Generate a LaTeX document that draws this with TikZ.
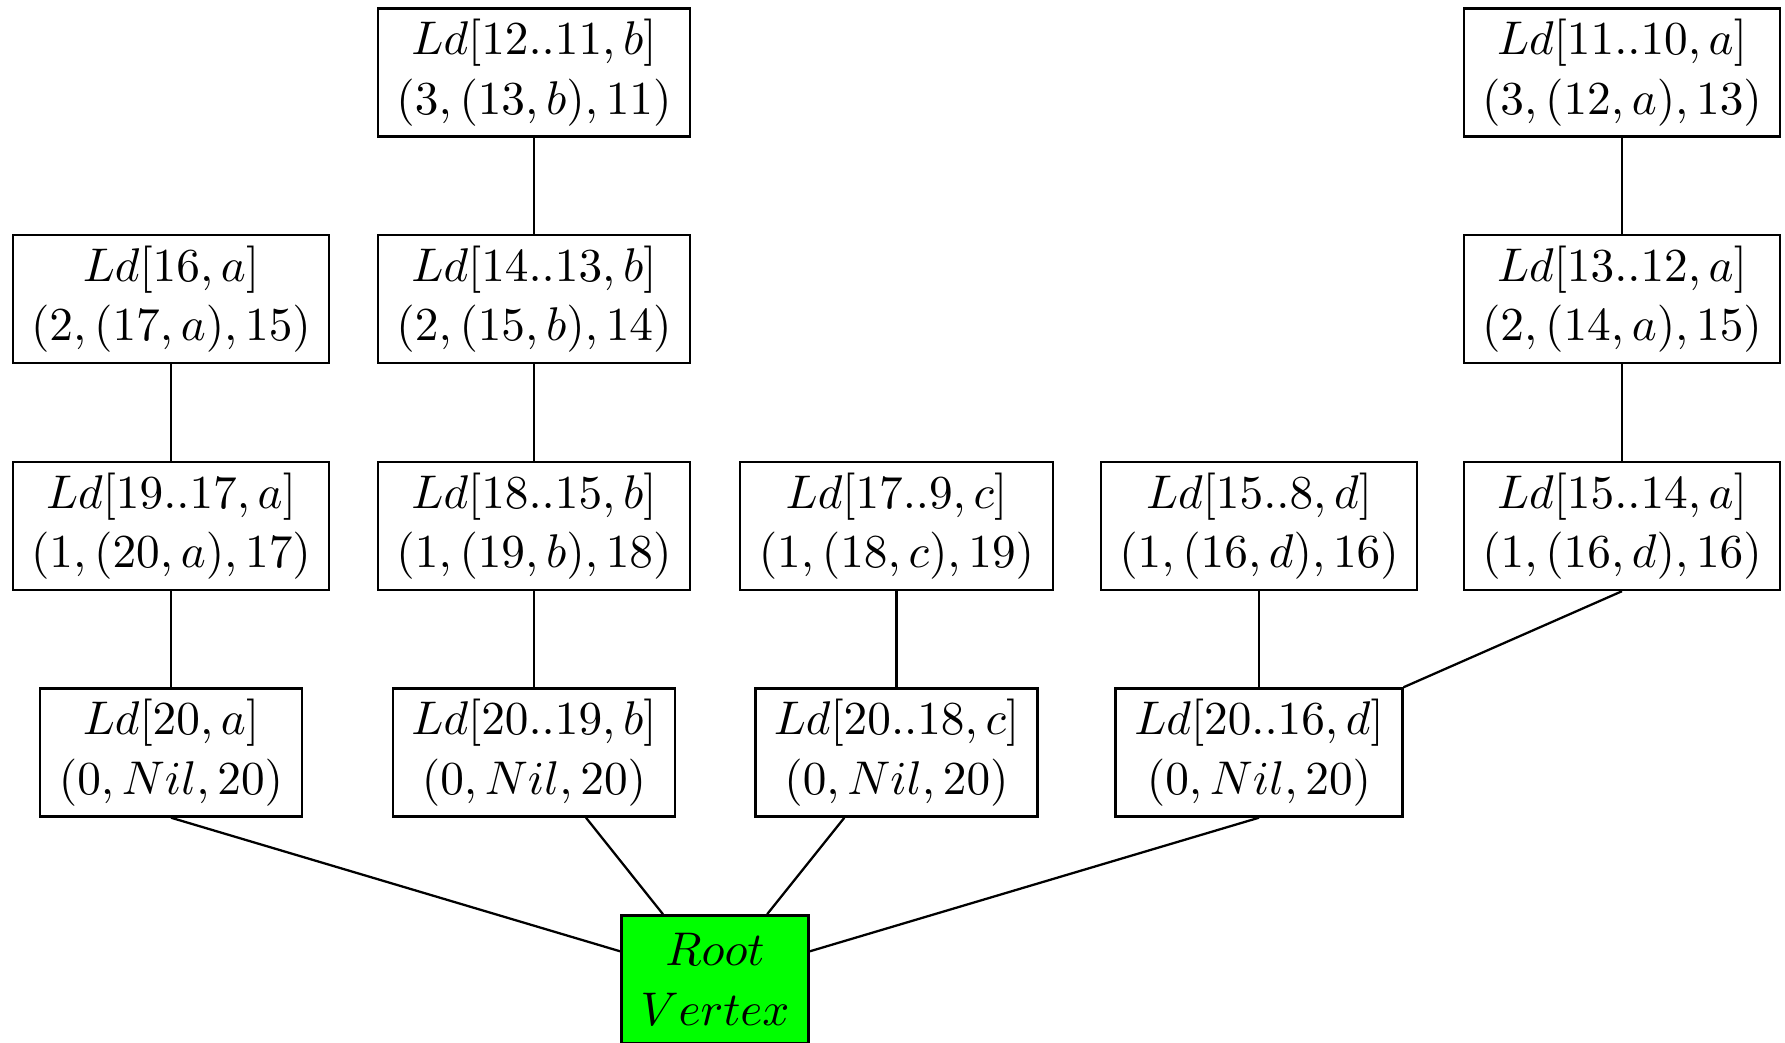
\documentclass[tikz,border=0pt]{standalone}
\usepackage{fix-cm}
\begin{document}
\begin{tikzpicture}[x=0.22pt,y=-0.22pt,line width=0.5pt,
  ldbox/.style={draw,align=center,inner xsep=2pt,minimum height=28.2pt,inner ysep=0pt,
    font=\fontsize{10.4pt}{13.1pt}\selectfont},
  rootbox/.style={ldbox,fill=green,minimum width=41.1pt}]
\clip (0,0) rectangle (1785,1043);
% row 1
\node[ldbox,minimum width=68.6pt] (b1) at (534,72.5) {$Ld[12..11,b]$\\$(3,(13,b),11)$};
\node[ldbox,minimum width=69.5pt] (e1) at (1622,72.5) {$Ld[11..10,a]$\\$(3,(12,a),13)$};
% row 2
\node[ldbox,minimum width=69.5pt] (a2) at (171,299) {$Ld[16,a]$\\$(2,(17,a),15)$};
\node[ldbox,minimum width=68.6pt] (b2) at (534,299) {$Ld[14..13,b]$\\$(2,(15,b),14)$};
\node[ldbox,minimum width=69.5pt] (e2) at (1622,299) {$Ld[13..12,a]$\\$(2,(14,a),15)$};
% row 3
\node[ldbox,minimum width=69.5pt] (a3) at (171,526) {$Ld[19..17,a]$\\$(1,(20,a),17)$};
\node[ldbox,minimum width=68.6pt] (b3) at (534,526) {$Ld[18..15,b]$\\$(1,(19,b),18)$};
\node[ldbox,minimum width=68.9pt] (c3) at (896.5,526) {$Ld[17..9,c]$\\$(1,(18,c),19)$};
\node[ldbox,minimum width=69.5pt] (d3) at (1259,526) {$Ld[15..8,d]$\\$(1,(16,d),16)$};
\node[ldbox,minimum width=69.5pt] (e3) at (1622,526) {$Ld[15..14,a]$\\$(1,(16,d),16)$};
% row 4
\node[ldbox,minimum width=57.6pt] (a4) at (171,752.5) {$Ld[20,a]$\\$(0,Nil,20)$};
\node[ldbox,minimum width=62.0pt] (b4) at (534,752.5) {$Ld[20..19,b]$\\$(0,Nil,20)$};
\node[ldbox,minimum width=62.0pt] (c4) at (896.5,752.5) {$Ld[20..18,c]$\\$(0,Nil,20)$};
\node[ldbox,minimum width=63.1pt] (d4) at (1259,752.5) {$Ld[20..16,d]$\\$(0,Nil,20)$};
% root
\node[rootbox] (root) at (715,979.5) {$Root$\\$Vertex$};
% edges
\draw (b1) -- (b2);
\draw (b2) -- (b3);
\draw (b3) -- (b4);
\draw (a2) -- (a3);
\draw (a3) -- (a4);
\draw (c3) -- (c4);
\draw (d3) -- (d4);
\draw (e1) -- (e2);
\draw (e2) -- (e3);
\draw (e3.south) -- (d4.north east);
\draw (a4.south) -- (root);
\draw (b4) -- (root);
\draw (c4) -- (root);
\draw (d4.south) -- (root);
\end{tikzpicture}
\end{document}
